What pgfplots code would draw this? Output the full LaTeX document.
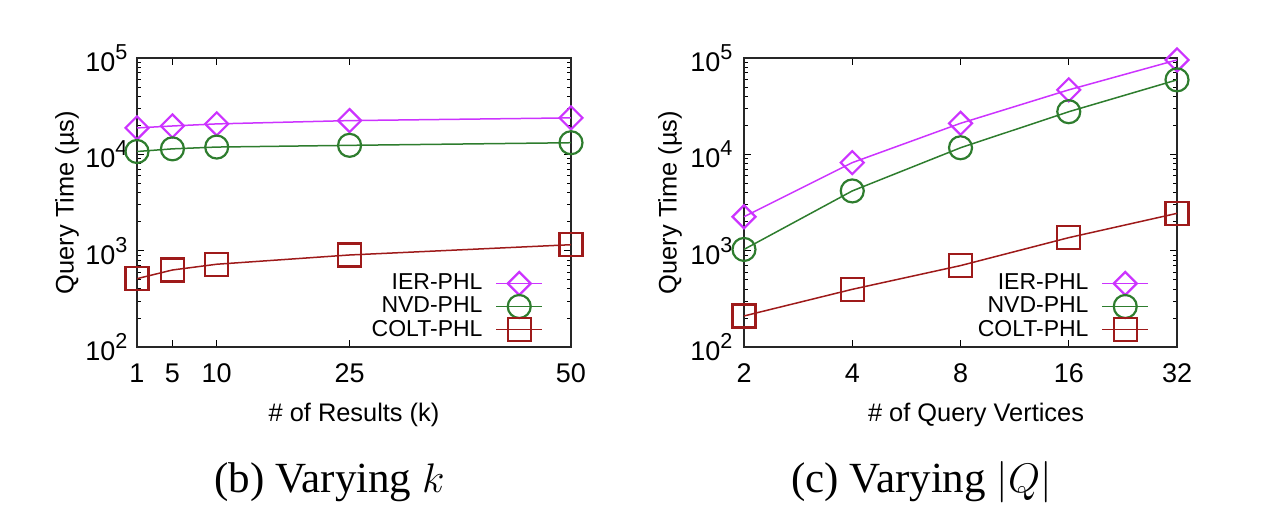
\documentclass[border=0pt]{standalone}
\usepackage{fontspec}
\setmainfont{Liberation Serif}
\setsansfont{Liberation Sans}
\usepackage{pgfplots}
\pgfplotsset{compat=1.18}

\definecolor{iercol}{HTML}{CC33FF}
\definecolor{nvdcol}{HTML}{2E7D2E}
\definecolor{coltcol}{HTML}{9E1A1A}

% gnuplot-style power label: superscript at 0.8 size
\newcommand\tenpow[1]{10\raisebox{0.45em}{\fontsize{10.8bp}{11bp}\selectfont #1}}
\newcommand\lgd[1]{\sffamily\fontsize{11.5bp}{12bp}\selectfont #1\hspace*{3bp}}

\pgfplotsset{
  every axis/.append style={
    scale only axis, anchor=south west, clip=false,
    height=144.5bp,
    ymode=log, ymin=100, ymax=100000,
    ytick={100,1000,10000,100000},
    yticklabels={\tenpow{2},\tenpow{3},\tenpow{4},\tenpow{5}},
    minor ytick={200,300,400,500,600,700,800,900,2000,3000,4000,5000,6000,7000,8000,9000,20000,30000,40000,50000,60000,70000,80000,90000},
    tick align=inside,
    major tick length=3.5bp, minor tick length=2bp,
    tick style={line width=0.5bp, black},
    axis line style={line width=0.7bp, black!85},
    ticklabel style={font=\sffamily\fontsize{13.5bp}{16bp}\selectfont},
    xticklabel style={anchor=base, yshift=-18bp},
    label style={font=\sffamily\fontsize{12.7bp}{15bp}\selectfont},
    ylabel={Query Time (µs)},
    legend style={at={(rel axis cs:1,0)}, anchor=south east, xshift=-14bp, yshift=3bp,
      draw=none, fill=none, inner sep=0pt, outer sep=0pt,
      font=\sffamily\fontsize{11.5bp}{12bp}\selectfont,
      row sep=0pt,
      /tikz/every odd column/.append style={column sep=3.5bp},
      nodes={inner sep=0pt}},
    legend cell align=right, legend plot pos=right,
  },
  legend image code/.code={\draw[mark repeat=2,mark phase=2] plot coordinates {(0bp,0bp) (11.5bp,0bp) (23bp,0bp)};},
}

\begin{document}
\begin{tikzpicture}
\useasboundingbox (0,0) rectangle (633.5bp,252.5bp);

% (b) varying k
\begin{axis}[
    at={(68.5bp,79bp)}, width=217bp,
    xmin=1, xmax=50,
    xtick={1,5,10,25,50}, xticklabels={1,5,10,25,50},
    xlabel={\# of Results (k)},
    xlabel style={at={(rel axis cs:0.5,0)}, anchor=base, yshift=-37.5bp},
    ylabel style={at={(rel axis cs:0,0.5)}, anchor=center, yshift=35bp},
    yticklabel style={anchor=west, inner sep=0pt, xshift=-26bp},
]
\addplot[color=iercol, line width=0.75bp, mark=square, mark size=4.07bp, mark options={rotate=45, line width=1.1bp}] coordinates {(1,18800) (5,19700) (10,20700) (25,22400) (50,23900)};
\addplot[color=nvdcol, line width=0.75bp, mark=o, mark size=5.75bp, mark options={line width=1.1bp}] coordinates {(1,10700) (5,11400) (10,11900) (25,12400) (50,13200)};
\addplot[color=coltcol, line width=0.75bp, mark=square, mark size=5.75bp, mark options={line width=1.1bp}] coordinates {(1,512) (5,630) (10,723) (25,902) (50,1153)};
\legend{\lgd{IER-PHL}, \lgd{NVD-PHL}, \lgd{COLT-PHL}}
\end{axis}

% (c) varying |Q|
\begin{axis}[
    at={(372bp,79bp)}, width=216.5bp,
    xmode=log, log basis x=2, xmin=2, xmax=32,
    xtick={2,4,8,16,32}, xticklabels={2,4,8,16,32},
    xlabel={\# of Query Vertices},
    xlabel style={at={(rel axis cs:0.5,0)}, anchor=base, yshift=-37.5bp, xshift=7.75bp},
    ylabel style={at={(rel axis cs:0,0.5)}, anchor=center, yshift=37bp},
    yticklabel style={anchor=west, inner sep=0pt, xshift=-27bp},
]
\addplot[color=iercol, line width=0.75bp, mark=square, mark size=4.07bp, mark options={rotate=45, line width=1.1bp}] coordinates {(2,2250) (4,8200) (8,21000) (16,46700) (32,95500)};
\addplot[color=nvdcol, line width=0.75bp, mark=o, mark size=5.75bp, mark options={line width=1.1bp}] coordinates {(2,1030) (4,4170) (8,11700) (16,27700) (32,59300)};
\addplot[color=coltcol, line width=0.75bp, mark=square, mark size=5.75bp, mark options={line width=1.1bp}] coordinates {(2,210) (4,397) (8,700) (16,1365) (32,2440)};
\legend{\lgd{IER-PHL}, \lgd{NVD-PHL}, \lgd{COLT-PHL}}
\end{axis}

\node[anchor=base, font=\fontsize{21.5bp}{26bp}\selectfont] at (164.75bp,6.5bp) {(b) Varying $k$};
\node[anchor=base, font=\fontsize{21.5bp}{26bp}\selectfont] at (460.75bp,6.5bp) {(c) Varying $|Q|$};
\end{tikzpicture}
\end{document}
